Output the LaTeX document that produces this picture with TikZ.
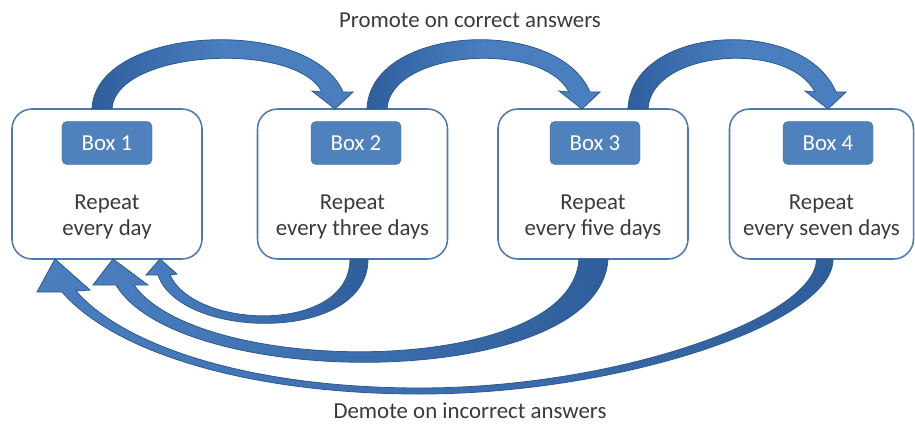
\documentclass[tikz,border=0pt]{standalone}
\usepackage{fontspec}
\setmainfont{Carlito}
\usepackage{xcolor}
\usetikzlibrary{calc}

\definecolor{boxline}{HTML}{4A78B0}
\definecolor{tagfill}{HTML}{4F81BD}
\definecolor{tagline}{HTML}{3D6DA8}
\definecolor{arrowlight}{HTML}{4A7EBF}
\definecolor{arrowdark}{HTML}{2F5E9C}
\definecolor{arrowline}{HTML}{2C5A91}
\definecolor{txtgray}{HTML}{3A3A3A}

\begin{document}
\begin{tikzpicture}[x=0.03cm, y=-0.03cm,
    every node/.style={font=\fontsize{19.5}{21.5}\selectfont, text=txtgray},
    card/.style={draw=boxline, line width=1.3pt, fill=white, rounded corners=0.6cm,
                 minimum height=4.5cm, inner sep=0pt, outer sep=0pt},
    tag/.style={draw=tagline, fill=tagfill, rounded corners=0.15cm, text=white,
                minimum width=2.7cm, minimum height=1.29cm, outer sep=0pt},
    promote/.style={draw=arrowline, line width=0.7pt,
                    left color=arrowdark, right color=arrowlight, middle color=arrowlight},
    demote/.style={draw=arrowline, line width=0.7pt,
                   left color=arrowlight, right color=arrowdark}]
  \useasboundingbox (0,0) rectangle (915,424);

  % the four boxes
  \foreach \i/\x/\w/\tx/\txt in {1/107/5.7cm/107/every day, 2/352.5/5.7cm/356/every three days,
                                 3/593/5.7cm/595/every five days, 4/821.5/5.52cm/828/every seven days} {
    \node[card, minimum width=\w] (b\i) at (\x,184) {};
    \node[tag] (l\i) at (\tx,143) {Box \i};
    \node[align=center] (r\i) at (\x,217) {Repeat\\\txt};
  }

  % promote arrows over the top
  \coordinate (u1) at ($(b1.north)+(-5,0)$);
  \coordinate (u2) at ($(b2.north)+(24.5,0)$);
  \coordinate (u3) at ($(b3.north)+(45,0)$);
  \coordinate (v2) at ($(b2.north)+(-17.5,0)$);
  \coordinate (v3) at ($(b3.north)+(-11,0)$);
  \coordinate (v4) at ($(b4.north)+(6.5,0)$);
  \foreach \t/\h in {u1/v2, u2/v3, u3/v4}
    \path[promote] ($(\t)+(-10,0)$) .. controls +(3,-84) and +(-33,-77) .. ($(\h)+(8,-17)$)
      -- ($(\h)+(18,-17)$) -- (\h) -- ($(\h)+(-23,-18)$) -- ($(\h)+(-13,-17)$)
      .. controls +(-27,-52) and +(3,-59) .. ($(\t)+(10,0)$) -- cycle;

  % demote arrows back to box 1
  \coordinate (s2) at ($(b2.south)+(6.5,0)$);
  \coordinate (s3) at ($(b3.south)+(0.5,0)$);
  \coordinate (s4) at ($(b4.south)+(3,0)$);
  \coordinate (h2) at ($(b1.south)+(53,0)$);
  \coordinate (h3) at ($(b1.south)+(6,0)$);
  \coordinate (h4) at ($(b1.south)+(-52,0)$);
  \coordinate (m4) at ($(b1.south)+(313,132)$);

  \path[demote] ($(s2)+(-9,0)$) .. controls +(0,75) and +(25,55) .. ($(h2)+(10,16)$)
    -- ($(h2)+(17,15)$) -- (h2) -- ($(h2)+(-14,16)$) -- ($(h2)+(-2,16)$)
    .. controls +(22,65) and +(0,85) .. ($(s2)+(9,0)$) -- cycle;

  \path[demote] ($(s3)+(-14.5,0)$) .. controls +(-7,119) and +(66,93) .. ($(h3)+(21,26)$)
    -- ($(h3)+(35,26)$) -- (h3) -- ($(h3)+(-20,26)$) -- ($(h3)+(3,26)$)
    .. controls +(64,107) and +(-8,133) .. ($(s3)+(14.5,0)$) -- cycle;

  \path[demote] ($(s4)+(-8,0)$) .. controls +(0,58) and +(198,0) .. ($(m4)+(0,-3)$)
    .. controls +(-168,0) and +(49,56) .. ($(h4)+(21,32)$)
    -- ($(h4)+(35,31)$) -- (h4) -- ($(h4)+(-18,33)$) -- ($(h4)+(7,33)$)
    .. controls +(53,61) and +(-170,0) .. ($(m4)+(0,3)$)
    .. controls +(202,0) and +(1,63) .. ($(s4)+(8.5,0)$) -- cycle;

  \node (promo) at (470,20) {Promote on correct answers};
  \node[inner sep=1pt] (demo) at (470,411) {Demote on incorrect answers};
\end{tikzpicture}
\end{document}
